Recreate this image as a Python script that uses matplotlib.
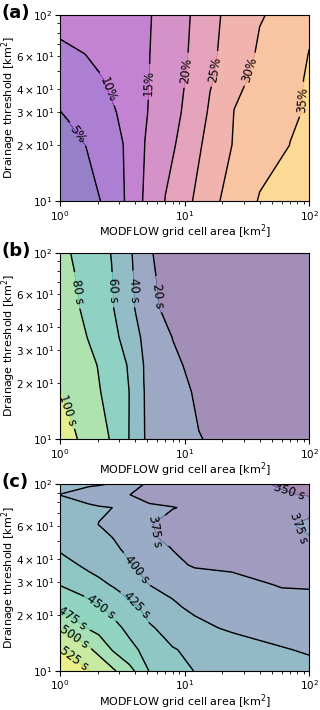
import numpy as np
import matplotlib
matplotlib.use("Agg")
import matplotlib.pyplot as plt

# grid of model runs: MODFLOW cell area (x) and drainage threshold (y), km2
x_a = [1, 1.6, 2.2, 3.2, 4.8, 7, 10, 16, 25, 40, 70, 100]
y_a = [10, 20, 30, 45, 62, 100]
# (a) relative error [%]
z_a = [
    [2.0, 3.8, 5.2, 9.65, 15.75, 20.15, 23.7, 28.7, 32.4, 35.35, 37.0, 38.0],
    [3.5, 5.0, 7.3, 9.95, 15.05, 18.25, 21.9, 26.9, 30.4, 32.5, 35.05, 36.0],
    [4.9, 7.2, 8.6, 10.8, 14.65, 17.65, 20.6, 25.7, 30.1, 32.05, 34.4, 35.5],
    [7.5, 8.95, 9.93, 12.1, 14.5, 17.25, 19.9, 24.5, 28.9, 31.3, 34.0, 35.5],
    [9.3, 10.05, 11.3, 12.85, 14.5, 16.85, 19.5, 24.1, 27.6, 30.7, 33.5, 35.1],
    [11.5, 12.4, 13.1, 13.8, 14.6, 16.0, 19.15, 23.8, 26.9, 29.6, 32.3, 34.0],
]

x_b = [1, 1.4, 2, 2.6, 3.6, 4.7, 6.3, 8, 13, 30, 100]
y_b = [10, 18, 25, 35, 50, 100]
# (b) run time [s]
z_b = [
    [110, 99.5, 87.8, 78.2, 59.5, 40.3, 34.4, 29.8, 20.4, 13.6, 4],
    [100.5, 91.5, 81.9, 72.5, 59.8, 40.2, 32.6, 25, 17.5, 12.5, 4],
    [96, 88, 79.7, 70.4, 58, 39.7, 30.8, 22, 16, 12, 4],
    [91, 84, 74.5, 65.9, 50.5, 36.6, 27, 19.8, 16.8, 11.5, 4],
    [88, 80.8, 70, 61.8, 44.3, 31.8, 19.9, 18.5, 15.7, 10.9, 4],
    [84, 76.6, 66.8, 59.3, 43.4, 23.5, 17, 17.6, 15, 10.5, 4],
]

x_c = [1, 1.7, 2.05, 2.7, 3.6, 5.2, 8, 12, 24, 60, 100]
y_c = [10, 13, 17, 22, 29, 37, 45, 52, 61, 75, 88, 100]
# (c) travel time [s]
z_c = [
    [535, 525.8, 517.4, 502.5, 482.4, 449.3, 435.8, 424.4, 418.1, 409.7, 405],
    [525.5, 503.9, 492.4, 471.5, 455.8, 441.4, 426, 421, 412.8, 401, 398],
    [500.5, 472.6, 465.8, 455.6, 444.4, 427, 417.4, 405, 396, 393, 390],
    [471.4, 457, 452, 441.9, 430.2, 417.8, 402.5, 396, 394, 388.3, 385],
    [449, 435.5, 430.4, 422.3, 412, 399.7, 394.9, 390.4, 382.7, 372.5, 372],
    [433, 419.2, 414.8, 408.3, 401.5, 392.1, 380.9, 372, 370, 369.5, 368],
    [422.5, 412, 408.3, 402.8, 395.9, 385.5, 374.5, 371, 366, 368, 371],
    [417.7, 408.1, 404.6, 399.4, 390.1, 378.3, 367, 366, 364, 368, 374],
    [412.4, 403.1, 399.75, 392.7, 385.4, 376, 368, 364, 362, 371, 381],
    [405.5, 403, 401.5, 399.8, 390, 379, 375.8, 371, 364, 360, 364],
    [399.8, 392, 388, 381, 375.3, 366, 364, 362, 358, 352, 348],
    [404, 402.5, 401.5, 398, 385, 370, 364, 360, 355, 348, 345],
]

levels_a = np.arange(0, 50, 5)
levels_b = np.arange(0, 140, 20)
levels_c = np.arange(325, 575, 25)

# where the contour labels sit (data coords)
lab_a = [(1.4, 23), (2.44, 40), (5.1, 43), (10.7, 50), (17.5, 51), (32, 51), (84, 35)]
lab_b = [(1.17, 14.4), (1.4, 62), (2.64, 63), (3.92, 63), (5.44, 58)]
lab_c = [(68, 89), (5.6, 56), (82, 58), (4.1, 35), (3.9, 21.4),
         (2.16, 22.3), (1.24, 18.9), (1.28, 15.1), (1.28, 11.5)]

fig = plt.figure(figsize=(3.2, 7.1), dpi=100)
boxes = [0.7165, 0.3813, 0.055]
panels = [
    ("(a)", x_a, y_a, z_a, levels_a, "plasma", lambda v: f"{v:.0f}%", lab_a),
    ("(b)", x_b, y_b, z_b, levels_b, "viridis", lambda v: f"{v:.0f} s", lab_b),
    ("(c)", x_c, y_c, z_c, levels_c, "viridis", lambda v: f"{v:.0f} s", lab_c),
]

for bottom, (tag, x, y, z, lev, cmap, fmt, labpos) in zip(boxes, panels):
    ax = fig.add_axes([0.1875, bottom, 0.779, 0.2628])
    ax.set_xscale("log")
    ax.set_yscale("log")
    ax.contourf(x, y, z, levels=lev, cmap=cmap, alpha=0.5)
    cs = ax.contour(x, y, z, levels=lev, colors="k", linewidths=1)
    ax.clabel(cs, fmt=fmt, manual=labpos, inline=True, fontsize=8.5)
    ax.set_xlim(1, 100)
    ax.set_ylim(10, 100)
    ax.set_xlabel("MODFLOW grid cell area [km$^2$]", fontsize=8)
    ax.set_ylabel("Drainage threshold [km$^2$]", fontsize=8)
    ax.xaxis.set_label_coords(0.5, -0.115)
    ax.yaxis.set_label_coords(-0.17, 0.5)
    ax.tick_params(which="both", labelsize=7.5, pad=2)
    fig.text(0.006, bottom + 0.2628 + 0.003, tag, fontsize=13, fontweight="bold", va="center")

fig.savefig("out.png", dpi=100)
